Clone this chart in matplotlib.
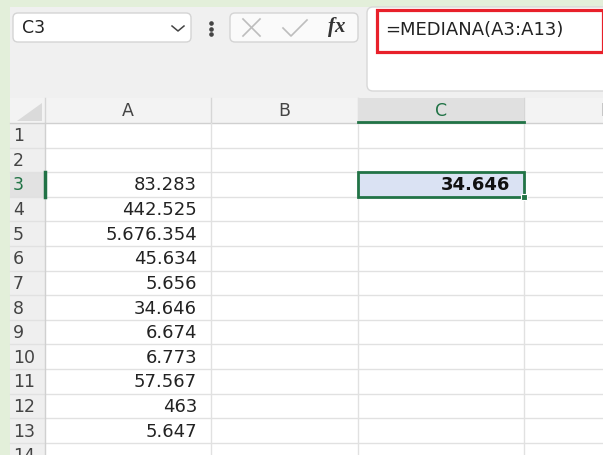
import numpy as np
import matplotlib.pyplot as plt
from matplotlib.patches import Rectangle, FancyBboxPatch, Polygon

# sheet contents
col_letters = ["A", "B", "C", "D"]
row_numbers = list(range(1, 15))
values = [83283, 442525, 5676354, 45634, 5656, 34646, 6674, 6773, 57567, 463, 5647]
first_row = 3
active_col = "C"
active_row = 3


def fmt(v):
    # excel (es) style thousands separator
    return f"{int(v):,}".replace(",", ".")


median = np.median(values)
formula = f"=MEDIANA(A{first_row}:A{first_row + len(values) - 1})"

# layout in pixels
W, H = 603, 455
col_edges = [45, 211, 358, 524, 690]
head_y0, head_y1 = 98, 123
row_h = 24.6
FONT = "DejaVu Sans"
green = "#217346"
gridc = "#e1e1e1"

fig = plt.figure(figsize=(W / 100, H / 100), dpi=100)
fig.patch.set_facecolor("#e3efda")
ax = fig.add_axes([0, 0, 1, 1])
ax.set_xlim(0, W)
ax.set_ylim(H, 0)
ax.axis("off")

# toolbar area
ax.add_patch(Rectangle((10, 7), W - 10, H - 7, fc="#f0f0f0", ec="none"))

# name box
ax.add_patch(FancyBboxPatch((13, 13), 178, 29, boxstyle="round,pad=0,rounding_size=5",
                            fc="white", ec="#d4d4d4", lw=1))
ax.text(22, 28, f"{active_col}{active_row}", fontsize=12.5, family=FONT, color="#222",
        va="center", ha="left")
ax.plot([172, 178, 184], [26, 31, 26], color="#444", lw=1.1)
ax.plot([211, 211, 211], [23, 28.5, 34], "o", ms=2.3, color="#444")

# cancel / enter / fx
ax.add_patch(FancyBboxPatch((230, 13), 128, 29, boxstyle="round,pad=0,rounding_size=5",
                            fc="#fafafa", ec="#d4d4d4", lw=1))
ax.plot([243, 260], [19, 36], color="#bdbdbd", lw=1.2)
ax.plot([243, 260], [36, 19], color="#bdbdbd", lw=1.2)
ax.plot([283, 291, 307], [28, 36, 20], color="#bdbdbd", lw=1.2)
ax.text(337, 27, "fx", fontsize=15, family="Liberation Serif", style="italic",
        weight="bold", color="#333", ha="center", va="center")

# formula bar
ax.add_patch(FancyBboxPatch((367, 7), 260, 84, boxstyle="round,pad=0,rounding_size=6",
                            fc="white", ec="#d8d8d8", lw=1))
ax.add_patch(Rectangle((376.5, 9.5), 226, 42, fc="none", ec="#e8202a", lw=2.3))
ax.text(385, 30, formula, fontsize=13, family=FONT, color="#222", va="center", ha="left")

# cells background
ax.add_patch(Rectangle((45, head_y1), W - 45, H - head_y1, fc="white", ec="none"))

# column header row
ax.add_patch(Rectangle((10, head_y0), W - 10, head_y1 - head_y0, fc="#f3f3f3", ec="none"))
ax.add_patch(Polygon([(17, 121), (42, 103), (42, 121)], closed=True, fc="#dadada", ec="none"))
for x in col_edges:
    ax.plot([x, x], [head_y0, head_y1], color="#d6d6d6", lw=1)
ax.plot([10, W], [head_y1, head_y1], color="#d0d0d0", lw=1)
for i, letter in enumerate(col_letters):
    x0, x1 = col_edges[i], col_edges[i + 1]
    is_active = letter == active_col
    if is_active:
        ax.add_patch(Rectangle((x0, head_y0), x1 - x0, head_y1 - head_y0, fc="#e0e0e0",
                               ec="none", zorder=3))
        ax.plot([x0, x1], [head_y1 - 1, head_y1 - 1], color=green, lw=2, zorder=4)
    ax.text((x0 + x1) / 2, (head_y0 + head_y1) / 2 + 1, letter, fontsize=12.5, family=FONT,
            color=green if is_active else "#444", ha="center", va="center", zorder=5)

# row header column
ax.add_patch(Rectangle((10, head_y1), 35, H - head_y1, fc="#efefef", ec="none"))
for r in row_numbers:
    y0 = head_y1 + (r - 1) * row_h
    is_active = r == active_row
    if is_active:
        ax.add_patch(Rectangle((10, y0), 35, row_h, fc="#e2e2e2", ec="none"))
    ax.text(13, y0 + row_h / 2 + 1, str(r), fontsize=12.5, family=FONT,
            color=green if is_active else "#444", ha="left", va="center")

# gridlines
for r in row_numbers:
    y = head_y1 + r * row_h
    ax.plot([10, W], [y, y], color=gridc, lw=1)
for x in col_edges[1:]:
    ax.plot([x, x], [head_y1, H], color=gridc, lw=1)
ax.plot([45, 45], [head_y1, H], color="#d0d0d0", lw=1)
y_act = head_y1 + (active_row - 1) * row_h
ax.plot([44.5, 44.5], [y_act, y_act + row_h], color=green, lw=2.5)

# values in column A
for i, v in enumerate(values):
    y = head_y1 + (first_row - 1 + i) * row_h + row_h / 2 + 1
    ax.text(col_edges[1] - 14, y, fmt(v), fontsize=13, family=FONT, color="#222",
            ha="right", va="center")

# active cell with the median
cx0, cx1 = col_edges[2], col_edges[3]
ax.add_patch(Rectangle((cx0, y_act), cx1 - cx0, row_h, fc="#dae2f3", ec=green, lw=2, zorder=4))
ax.add_patch(Rectangle((cx1 - 3, y_act + row_h - 3), 6, 6, fc=green, ec="white", lw=0.8,
                       zorder=5))
ax.text(cx1 - 14, y_act + row_h / 2 + 1, fmt(median), fontsize=13, family=FONT,
        weight="bold", color="#111", ha="right", va="center", zorder=6)

fig.savefig("out.png", dpi=100, facecolor=fig.get_facecolor())
